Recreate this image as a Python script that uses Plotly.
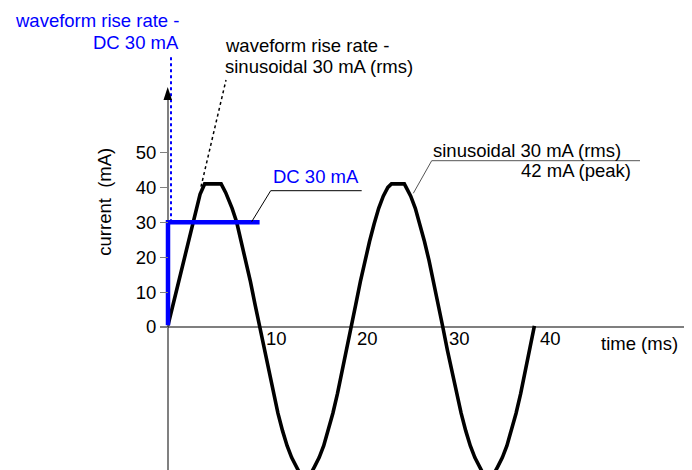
import plotly.graph_objects as go

# ---------------- data ----------------
WAVE_T = [0, 0.5, 1, 1.5, 2, 2.5, 3, 3.5, 4.0, 4.5, 5, 5.5, 5.8, 6.3, 7, 7.5, 8, 8.5, 9, 9.5, 10,
          10.5, 11, 11.5, 12, 12.5, 13, 13.5, 14, 14.5, 15, 15.5, 16, 16.5, 17, 17.5, 18, 18.5, 19, 19.5, 20,
          20.5, 21, 21.5, 22, 22.5, 23, 23.5, 24, 24.4, 25, 25.8, 26, 26.5, 27, 27.5, 28, 28.5, 29, 29.5, 30,
          30.5, 31, 31.5, 32, 32.5, 33, 33.5, 34, 34.5, 35, 35.5, 36, 36.5, 37, 37.5, 38, 38.5, 39, 39.5, 40]
WAVE_MA = [0.5, 6, 11.5, 17, 22.5, 28, 33.5, 38, 41, 41, 41, 41, 41, 38.5, 34, 30, 24.5, 19, 13, 6.5, 0.3,
           -6.6, -13, -19.1, -24.7, -29.7, -34, -37.4, -40, -42.5, -43.5, -42.5, -40, -37.4, -34, -29.7, -24.7, -19.1, -13, -6.6, 0,
           6.5, 13, 19, 24.5, 29.5, 34, 37.5, 40, 41, 41, 41, 40, 37.5, 34, 29.5, 24.5, 19, 13, 6.5, 0,
           -6.6, -13, -19.1, -24.7, -29.7, -34, -37.4, -40, -42.5, -43.5, -42.5, -40, -37.4, -34, -29.7, -24.7, -19.1, -13, -6.6, 0.3]

DC_T = [0, 0, 10]
DC_MA = [0.5, 30, 30]

YTICKS = [0, 10, 20, 30, 40, 50]
YTICK_LABELS = ["0", "10", "20", "30", "40", "50"]
XTICKS = [10, 20, 30, 40]
XTICK_LABELS = ["10", "20", "30", "40"]

# ---------------- layout helpers ----------------
OFF = 8                    # page body margin of the html page
W, H = 692 - OFF, 470 - OFF
X0PX, XS = 168.0, 9.16     # window pixel of t=0, px per ms
Y0PX, YS = 327.0, 3.49     # window pixel of 0 mA, px per mA


def px2x(p):
    return (p - X0PX) / XS


def py2y(p):
    return (Y0PX - p) / YS


def pxp(p):
    return (p - OFF) / W


def pyp(p):
    return 1 - (p - OFF) / H


FONT = "Liberation Sans, Arial, sans-serif"
FS = 18.5
BLUE = "#0000FF"
GREY = "#808080"

fig = go.Figure()

# sinusoidal waveform
fig.add_trace(go.Scatter(x=WAVE_T, y=WAVE_MA, mode="lines",
                         line=dict(color="black", width=3.6), hoverinfo="skip"))
# DC waveform
fig.add_trace(go.Scatter(x=DC_T, y=DC_MA, mode="lines",
                         line=dict(color=BLUE, width=4.5), hoverinfo="skip"))

# rise-rate pointers
fig.add_trace(go.Scatter(x=[px2x(171), px2x(171)], y=[30, py2y(55)], mode="lines",
                         line=dict(color=BLUE, width=2, dash="3px,3px"), hoverinfo="skip"))
fig.add_trace(go.Scatter(x=[px2x(201), px2x(226)], y=[py2y(186.7), py2y(80)], mode="lines",
                         line=dict(color="black", width=1.5, dash="3px,3px"), hoverinfo="skip"))

# leaders
fig.add_trace(go.Scatter(x=[px2x(251.7), px2x(270.7), px2x(361.7)],
                         y=[py2y(221.7), py2y(190.7), py2y(190.7)], mode="lines",
                         line=dict(color="black", width=1), hoverinfo="skip"))
fig.add_trace(go.Scatter(x=[px2x(413.3), px2x(431.7), px2x(640)],
                         y=[py2y(193.3), py2y(160.7), py2y(160.7)], mode="lines",
                         line=dict(color="#555555", width=1), hoverinfo="skip"))

shapes = [
    # y axis (grey) with black arrow head
    dict(type="line", xref="x", yref="y", x0=0, x1=0, y0=py2y(472), y1=py2y(98),
         line=dict(color=GREY, width=2), layer="below"),
    dict(type="path", xref="x", yref="y",
         path=f"M {px2x(167.7)},{py2y(87)} L {px2x(163.5)},{py2y(100)} L {px2x(172)},{py2y(100)} Z",
         fillcolor="black", line=dict(color="black", width=0)),
    # x axis (black) with small arrow head
    dict(type="line", xref="x", yref="y", x0=px2x(160), x1=px2x(688), y0=0, y1=0,
         line=dict(color="black", width=1.2), layer="below"),
    dict(type="path", xref="x", yref="y",
         path=f"M {px2x(692)},{py2y(327)} L {px2x(686)},{py2y(323.5)} L {px2x(686)},{py2y(330.5)} Z",
         fillcolor="black", line=dict(color="black", width=0)),
]

annotations = []


def txt(text, x, y, xanchor="left", color="black", angle=0):
    annotations.append(dict(text=text, x=pxp(x), y=pyp(y), xref="paper", yref="paper",
                            xanchor=xanchor, yanchor="middle", showarrow=False,
                            textangle=angle, borderpad=0,
                            font=dict(family=FONT, size=FS, color=color)))


txt("waveform rise rate -", 180, 20.3, "right", BLUE)
txt("DC 30 mA", 180, 42.9, "right", BLUE)
txt("waveform rise rate -", 224, 45.3)
txt("sinusoidal 30 mA (rms)", 224, 67.0)
txt("DC 30 mA", 272.3, 176.3, "left", BLUE)
txt("sinusoidal 30 mA (rms)", 432.3, 150.3)
txt("42 mA (peak)", 632, 170.3, "right")
txt("time (ms)", 600, 343.6)
txt("current  (mA)", 105, 201.7, "center", "black", -90)

for v, lab in zip(XTICKS, XTICK_LABELS):
    annotations.append(dict(text=lab, x=v, y=0, xref="x", yref="y", xanchor="left",
                            yanchor="middle", yshift=-11.6, xshift=5, showarrow=False,
                            borderpad=0, font=dict(family=FONT, size=FS, color="black")))

fig.update_layout(
    width=W, height=H, margin=dict(l=0, r=0, t=0, b=0),
    paper_bgcolor="white", plot_bgcolor="white", showlegend=False,
    xaxis=dict(range=[px2x(OFF), px2x(692)], visible=False, fixedrange=True),
    yaxis=dict(range=[py2y(470), py2y(OFF)], anchor="free", position=(X0PX - OFF) / W,
               tickvals=YTICKS, ticktext=YTICK_LABELS, ticks="outside", ticklen=8,
               tickcolor=GREY, tickwidth=1.2, showline=False, showgrid=False,
               zeroline=False, automargin=False, fixedrange=True,
               tickfont=dict(family=FONT, size=FS, color="black")),
    shapes=shapes, annotations=annotations,
)

fig.write_html("out.html")
